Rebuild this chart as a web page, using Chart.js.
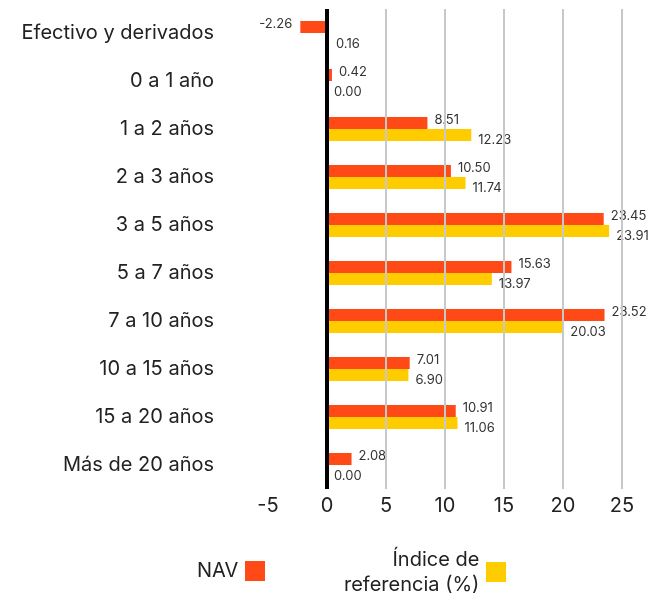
<!DOCTYPE html>
<html>
<head>
<meta charset="utf-8">
<script src="https://cdn.jsdelivr.net/npm/chart.js@4"></script>
<style>
  html, body { margin: 0; padding: 0; background: #fff; }
  #wrap { position: relative; width: 662px; height: 599px; }
  canvas { display: block; }
  #legend { position: absolute; left: 0; top: 548px; width: 662px; font-family: Inter, sans-serif; font-size: 20px; color: #222; }
  .item { position: absolute; display: flex; align-items: center; }
  .item span.txt { text-align: right; line-height: 25px; }
  .item span.box { display: inline-block; width: 20px; height: 20px; margin-left: 7px; }
</style>
</head>
<body>
<div id="wrap">
  <canvas id="chart" width="662" height="599"></canvas>
  <div id="legend"></div>
</div>
<script>
var categories = ["Efectivo y derivados", "0 a 1 año", "1 a 2 años", "2 a 3 años", "3 a 5 años",
    "5 a 7 años", "7 a 10 años", "10 a 15 años", "15 a 20 años", "Más de 20 años"];
var navValues = [-2.26, 0.42, 8.51, 10.50, 23.45, 15.63, 23.52, 7.01, 10.91, 2.08];
var indexValues = [0.16, 0.00, 12.23, 11.74, 23.91, 13.97, 20.03, 6.90, 11.06, 0.00];
var seriesNames = ["NAV", "Índice de\nreferencia (%)"];
var seriesColors = ["#FF4A17", "#FFCC00"];
var xTicks = [-5, 0, 5, 10, 15, 20, 25];

// draws the value next to each bar end
var valueLabels = {
    id: "valueLabels",
    afterDatasetsDraw: function (chart) {
        var ctx = chart.ctx;
        ctx.save();
        ctx.font = "13px Inter, sans-serif";
        ctx.fillStyle = "#333";
        ctx.textBaseline = "middle";
        chart.data.datasets.forEach(function (ds, i) {
            var meta = chart.getDatasetMeta(i);
            meta.data.forEach(function (bar, j) {
                var v = ds.data[j];
                var dy = i === 0 ? -3 : 5;
                if (v < 0) {
                    ctx.textAlign = "right";
                    ctx.fillText(v.toFixed(2), bar.x - 8, bar.y + dy);
                } else {
                    ctx.textAlign = "left";
                    ctx.fillText(v.toFixed(2), bar.x + 7, bar.y + dy);
                }
            });
        });
        ctx.restore();
    }
};

new Chart(document.getElementById("chart"), {
    type: "bar",
    data: {
        labels: categories,
        datasets: [
            { label: seriesNames[0], data: navValues, backgroundColor: seriesColors[0] },
            { label: seriesNames[1], data: indexValues, backgroundColor: seriesColors[1] }
        ]
    },
    options: {
        indexAxis: "y",
        responsive: false,
        animation: false,
        categoryPercentage: 0.5,
        barPercentage: 1,
        layout: { padding: { top: 9, right: 40, bottom: 80, left: 0 } },
        plugins: { legend: { display: false }, tooltip: { enabled: false } },
        scales: {
            x: {
                min: -5,
                max: 25,
                afterBuildTicks: function (axis) {
                    axis.ticks = xTicks.map(function (v) { return { value: v }; });
                },
                afterFit: function (axis) { axis.height = 30; },
                grid: {
                    drawTicks: false,
                    lineWidth: function (c) { return c.tick && c.tick.value === 0 ? 4 : (c.tick && c.tick.value === -5 ? 0 : 2); },
                    color: function (c) { return c.tick && c.tick.value === 0 ? "#000" : "#c8c8c8"; },
                    z: 1
                },
                border: { display: false },
                ticks: { font: { family: "Inter", size: 20 }, color: "#222", padding: 5 }
            },
            y: {
                afterFit: function (axis) {
                    axis.width = 268;
                    axis.paddingTop = 0;
                    axis.paddingBottom = 0;
                },
                grid: { drawOnChartArea: false, drawTicks: true, tickLength: 50, color: "rgba(0,0,0,0)" },
                border: { display: false },
                ticks: { font: { family: "Inter", size: 20 }, color: "#222", padding: 4 }
            }
        }
    },
    plugins: [valueLabels]
});

// legend below the chart, box to the right of the text
var legend = document.getElementById("legend");
var legendX = [197, 344];
var legendY = [10, -1];
seriesNames.forEach(function (name, i) {
    var item = document.createElement("div");
    item.className = "item";
    item.style.left = legendX[i] + "px";
    item.style.top = legendY[i] + "px";
    var txt = document.createElement("span");
    txt.className = "txt";
    txt.innerHTML = name.replace("\n", "<br>");
    var box = document.createElement("span");
    box.className = "box";
    box.style.background = seriesColors[i];
    item.appendChild(txt);
    item.appendChild(box);
    legend.appendChild(item);
});
</script>
</body>
</html>
